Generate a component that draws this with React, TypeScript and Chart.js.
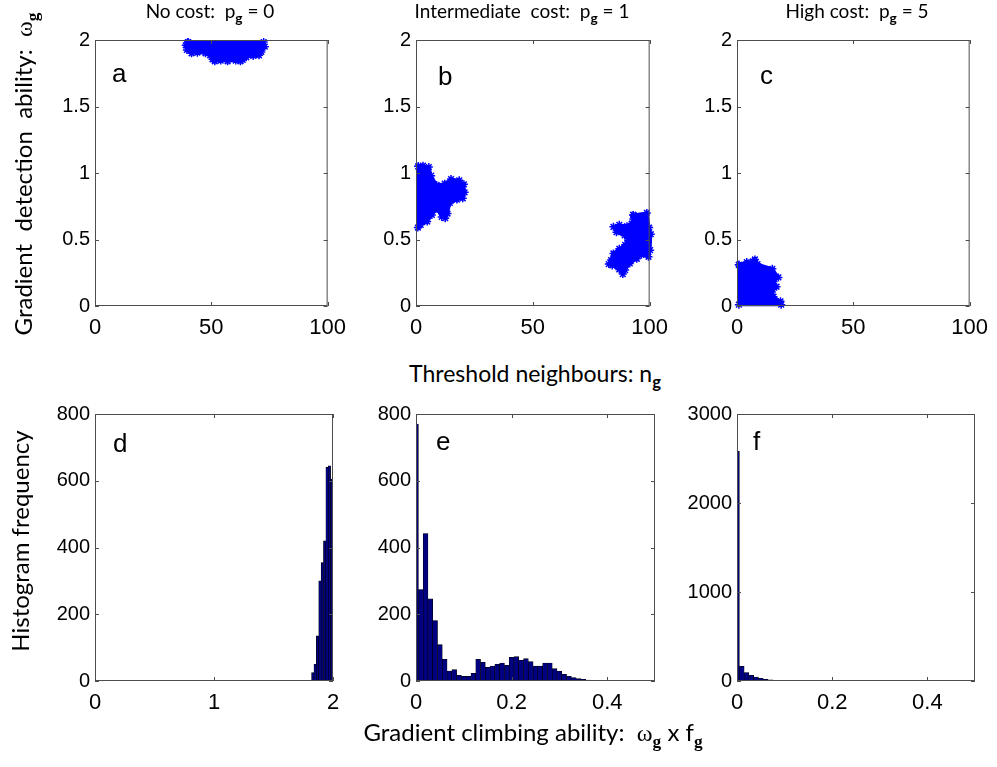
import React, { useEffect, useRef } from "react";
import { Chart, registerables } from "chart.js";

Chart.register(...registerables);

// ---------- DATA ----------
// Top row: outline vertices (n_g, ω_g) of each point cloud
const cloudA: [number, number][] = [
  [40, 1.985], [72.5, 1.985], [73, 1.95], [71.5, 1.91], [70.5, 1.885], [68, 1.88],
  [65, 1.87], [63.5, 1.85], [62.5, 1.84], [60.5, 1.845], [57, 1.84], [54, 1.845],
  [51.5, 1.84], [50.5, 1.855], [49.5, 1.885], [47.5, 1.9], [44, 1.905], [41.5, 1.9],
  [39.5, 1.925], [39, 1.96],
];
const cloudB1: [number, number][] = [
  [1, 1.05], [3, 1.055], [5.5, 1.045], [6.5, 0.98], [8.8, 0.91], [12.3, 0.92],
  [15, 0.955], [18.5, 0.945], [20.5, 0.915], [20.8, 0.855], [20, 0.81], [17.5, 0.8],
  [14.5, 0.775], [13.5, 0.695], [12.5, 0.66], [11, 0.67], [9, 0.73], [6.8, 0.685],
  [4.8, 0.635], [2, 0.61], [0.8, 0.59],
];
const cloudB2: [number, number][] = [
  [93, 0.685], [98.8, 0.7], [99.8, 0.59], [100.5, 0.54], [100.2, 0.42], [99.5, 0.37],
  [96.5, 0.385], [94.5, 0.355], [91.5, 0.32], [89.5, 0.27], [88.5, 0.24], [87, 0.275],
  [84, 0.305], [82.5, 0.315], [83.5, 0.345], [84.5, 0.395], [87, 0.43], [89.5, 0.46],
  [90.8, 0.495], [89.3, 0.53], [85.8, 0.555], [84.5, 0.595], [87, 0.61], [90.3, 0.6],
  [92.3, 0.62], [93, 0.655],
];
const cloudC: [number, number][] = [
  [0.8, 0.31], [4.2, 0.33], [6.8, 0.335], [7.7, 0.35], [8.8, 0.315], [15.2, 0.28],
  [17.8, 0.215], [15.7, 0.185], [17, 0.145], [15, 0.105], [15.7, 0.07],
  [18.7, 0.035], [19, 0.01], [0.8, 0.01],
];
const scatterXTicks = [0, 50, 100];
const scatterYTicks = [0, 0.5, 1, 1.5, 2];

// Bottom row: histogram bin centres and counts
const binsD = [1.83, 1.85, 1.87, 1.89, 1.91, 1.93, 1.95, 1.97, 1.99];
const countsD = [25, 50, 135, 300, 355, 420, 640, 645, 605];
const binsE = [
  0, 0.01, 0.02, 0.03, 0.04, 0.05, 0.06, 0.07, 0.08, 0.09, 0.1, 0.11, 0.12, 0.13,
  0.14, 0.15, 0.16, 0.17, 0.18, 0.19, 0.2, 0.21, 0.22, 0.23, 0.24, 0.25, 0.26, 0.27,
  0.28, 0.29, 0.3, 0.31, 0.32, 0.33, 0.34, 0.35, 0.36, 0.37, 0.38,
];
const countsE = [
  770, 274, 442, 246, 181, 109, 65, 30, 34, 17, 14, 14, 23, 65, 56, 41, 45, 50, 54,
  47, 71, 73, 62, 67, 58, 45, 45, 54, 54, 37, 29, 20, 14, 10, 7, 5, 3, 1, 1,
];
const binsF = [0, 0.01, 0.02, 0.03, 0.04, 0.05, 0.06, 0.07, 0.08, 0.09, 0.1, 0.11, 0.12];
const countsF = [2580, 165, 95, 65, 45, 30, 20, 12, 8, 6, 4, 3, 2];
const histXTicksD = [0, 1, 2];
const histXTicksEF = [0, 0.2, 0.4];
const histYTicksDE = [0, 200, 400, 600, 800];
const histYTicksF = [0, 1000, 2000, 3000];

// ---------- STYLE / LAYOUT ----------
const PAD_L = 60;
const PAD_T = 15;
const PAD_R = 22;
const PAD_B = 40;
const FONT_TICK = "'Liberation Sans', Arial, Helvetica, sans-serif";
const FONT_TEXT = "Lato, 'Open Sans', sans-serif";
const BLUE = "#0000ff";
const NAVY = "#000080";

type Plot = { x: number; y: number; w: number; h: number };

function axis(min: number, max: number, ticks: number[], isX: boolean) {
  return {
    type: "linear",
    min,
    max,
    offset: false,
    grid: { display: false, drawTicks: false },
    border: { display: false },
    ticks: {
      autoSkip: false,
      maxRotation: 0,
      minRotation: 0,
      padding: isX ? 9 : 5,
      color: "#000",
      font: { family: FONT_TICK, size: isX ? 22 : 20 },
      callback: (v: number) => String(v),
    },
    afterBuildTicks: (s: any) => {
      s.ticks = ticks.map((v) => ({ value: v }));
    },
    afterFit: (s: any) => {
      if (isX) s.height = PAD_B;
      else s.width = PAD_L;
    },
  };
}

const boxPlugin = {
  id: "matlabBox",
  afterDraw(chart: any) {
    const { ctx, chartArea: a, scales } = chart;
    ctx.save();
    ctx.strokeStyle = "#4d4d4d";
    ctx.lineWidth = 1;
    ctx.strokeRect(a.left + 0.5, a.top + 0.5, a.right - a.left - 1, a.bottom - a.top - 1);
    const L = 4;
    ctx.beginPath();
    scales.x.ticks.forEach((t: any) => {
      const px = Math.round(scales.x.getPixelForValue(t.value)) + 0.5;
      ctx.moveTo(px, a.bottom);
      ctx.lineTo(px, a.bottom - L);
      ctx.moveTo(px, a.top);
      ctx.lineTo(px, a.top + L);
    });
    scales.y.ticks.forEach((t: any) => {
      const py = Math.round(scales.y.getPixelForValue(t.value)) + 0.5;
      ctx.moveTo(a.left, py);
      ctx.lineTo(a.left + L, py);
      ctx.moveTo(a.right, py);
      ctx.lineTo(a.right - L, py);
    });
    ctx.stroke();
    ctx.restore();
  },
};

function letterPlugin(letter: string, dx: number, dy: number) {
  return {
    id: "panelLetter",
    afterDraw(chart: any) {
      const { ctx, chartArea } = chart;
      ctx.save();
      ctx.font = `26px ${FONT_TICK}`;
      ctx.fillStyle = "#000";
      ctx.textBaseline = "alphabetic";
      ctx.textAlign = "left";
      ctx.fillText(letter, chartArea.left + dx, chartArea.top + dy);
      ctx.restore();
    },
  };
}

const baseOptions = {
  responsive: false,
  animation: false,
  events: [],
  layout: { padding: { top: PAD_T, right: PAD_R, left: 0, bottom: 0 } },
  plugins: { legend: { display: false }, tooltip: { enabled: false }, title: { display: false } },
};

function cloudDataset(cloud: [number, number][]) {
  const pts = cloud.map(([x, y]) => ({ x, y }));
  pts.push({ ...pts[0] });
  return {
    data: pts,
    showLine: true,
    fill: "shape",
    tension: 0,
    backgroundColor: BLUE,
    borderColor: BLUE,
    borderWidth: 3,
    pointStyle: "star",
    pointRadius: 4,
    pointBorderColor: BLUE,
    pointBackgroundColor: BLUE,
    pointBorderWidth: 1.5,
    clip: 8,
  };
}

function scatterConfig(clouds: [number, number][][], letter: string, dx: number, dy: number) {
  return {
    type: "scatter",
    data: { datasets: clouds.map(cloudDataset) },
    options: {
      ...baseOptions,
      scales: {
        x: axis(0, 100, scatterXTicks, true),
        y: axis(0, 2, scatterYTicks, false),
      },
    },
    plugins: [boxPlugin, letterPlugin(letter, dx, dy)],
  };
}

function histConfig(
  bins: number[],
  counts: number[],
  xMax: number,
  xTicks: number[],
  yMax: number,
  yTicks: number[],
  letter: string,
  dx: number,
  dy: number
) {
  return {
    type: "bar",
    data: {
      datasets: [
        {
          data: bins.map((b, i) => ({ x: b, y: counts[i] })),
          backgroundColor: NAVY,
          borderColor: "#000000",
          borderWidth: 0.6,
          barPercentage: 1,
          categoryPercentage: 1,
        },
      ],
    },
    options: {
      ...baseOptions,
      scales: {
        x: axis(0, xMax, xTicks, true),
        y: axis(0, yMax, yTicks, false),
      },
    },
    plugins: [boxPlugin, letterPlugin(letter, dx, dy)],
  };
}

function Panel({ plot, build }: { plot: Plot; build: () => any }) {
  const ref = useRef<HTMLCanvasElement>(null);
  useEffect(() => {
    const chart = new Chart(ref.current as HTMLCanvasElement, build());
    return () => chart.destroy();
  }, []);
  const W = plot.w + PAD_L + PAD_R;
  const H = plot.h + PAD_T + PAD_B;
  return (
    <canvas
      ref={ref}
      width={W}
      height={H}
      style={{ position: "absolute", left: plot.x - PAD_L, top: plot.y - PAD_T, width: W, height: H }}
    />
  );
}

const Sub = ({ children, serif }: { children: string; serif?: boolean }) => (
  <span
    style={{
      fontSize: "0.72em",
      fontWeight: "bold",
      position: "relative",
      top: "0.35em",
      fontFamily: serif ? "'Liberation Serif', 'DejaVu Serif', serif" : undefined,
    }}
  >
    {children}
  </span>
);
const Omega = () => (
  <span style={{ fontFamily: "'Liberation Serif', 'DejaVu Serif', serif" }}>ω</span>
);

const textBase: React.CSSProperties = {
  position: "absolute",
  fontFamily: FONT_TEXT,
  color: "#000",
  whiteSpace: "pre",
  lineHeight: 1.2,
};

export default function App() {
  const pa: Plot = { x: 95, y: 38, w: 238, h: 268 };
  const pb: Plot = { x: 416, y: 38, w: 239, h: 268 };
  const pc: Plot = { x: 737, y: 38, w: 238, h: 268 };
  const pd: Plot = { x: 95, y: 412, w: 238, h: 269 };
  const pe: Plot = { x: 416, y: 412, w: 239, h: 269 };
  const pf: Plot = { x: 737, y: 412, w: 238, h: 269 };

  return (
    <div style={{ position: "absolute", left: 0, top: 0, width: 997, height: 767, background: "#fff", overflow: "hidden" }}>
      <Panel plot={pa} build={() => scatterConfig([cloudA], "a", 17, 42)} />
      <Panel plot={pb} build={() => scatterConfig([cloudB1, cloudB2], "b", 22, 45)} />
      <Panel plot={pc} build={() => scatterConfig([cloudC], "c", 23, 44)} />
      <Panel plot={pd} build={() => histConfig(binsD, countsD, 2, histXTicksD, 800, histYTicksDE, "d", 18, 38)} />
      <Panel plot={pe} build={() => histConfig(binsE, countsE, 0.5, histXTicksEF, 800, histYTicksDE, "e", 20, 36)} />
      <Panel plot={pf} build={() => histConfig(binsF, countsF, 0.5, histXTicksEF, 3000, histYTicksF, "f", 16, 36)} />

      {/* column titles */}
      <div style={{ ...textBase, fontSize: 19, left: 210, top: 0, transform: "translateX(-50%)" }}>
        {"No cost:  p"}<Sub>g</Sub>{" = 0"}
      </div>
      <div style={{ ...textBase, fontSize: 19, left: 522, top: 0, transform: "translateX(-50%)" }}>
        {"Intermediate  cost:  p"}<Sub>g</Sub>{" = 1"}
      </div>
      <div style={{ ...textBase, fontSize: 19, left: 857, top: 0, transform: "translateX(-50%)" }}>
        {"High cost:  p"}<Sub>g</Sub>{" = 5"}
      </div>

      {/* shared x labels */}
      <div style={{ ...textBase, fontSize: 23, left: 535, top: 360, transform: "translateX(-50%)" }}>
        {"Threshold neighbours: n"}<Sub>g</Sub>
      </div>
      <div style={{ ...textBase, fontSize: 24, left: 533, top: 718, transform: "translateX(-50%)" }}>
        {"Gradient climbing ability:  "}<Omega /><Sub serif>g</Sub>{" x f"}<Sub serif>g</Sub>
      </div>

      {/* y labels */}
      <div
        style={{
          ...textBase,
          fontSize: 24,
          left: 23.5,
          top: 174,
          transform: "translate(-50%, -50%) rotate(-90deg)",
        }}
      >
        {"Gradient  detection  ability:  "}<Omega /><Sub serif>g</Sub>
      </div>
      <div
        style={{
          ...textBase,
          fontSize: 24,
          left: 20,
          top: 541,
          transform: "translate(-50%, -50%) rotate(-90deg)",
        }}
      >
        Histogram frequency
      </div>
    </div>
  );
}
